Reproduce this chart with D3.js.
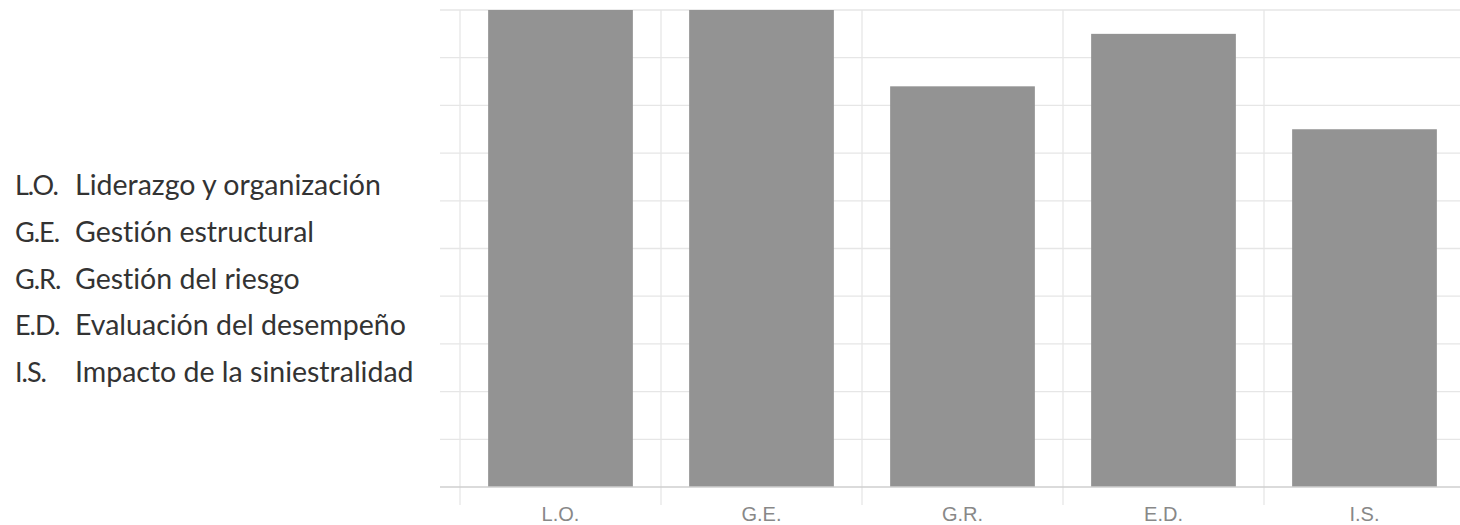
<!DOCTYPE html>
<html>
<head>
<meta charset="utf-8">
<script src="https://cdn.jsdelivr.net/npm/d3@7"></script>
<style>
  html, body { margin: 0; padding: 0; background: #fff; }
  svg { display: block; }
  text { font-variant-ligatures: none; font-feature-settings: "liga" 0; }
</style>
</head>
<body>
<svg id="chart" width="1460" height="525"></svg>
<script>
const categories = ["L.O.", "G.E.", "G.R.", "E.D.", "I.S."];
const values = [100, 100, 84, 95, 75];
const legendCodes = ["L.O.", "G.E.", "G.R.", "E.D.", "I.S."];
const legendNames = ["Liderazgo y organización", "Gestión estructural", "Gestión del riesgo", "Evaluación del desempeño", "Impacto de la siniestralidad"];
const yTicks = [0, 10, 20, 30, 40, 50, 60, 70, 80, 90, 100];

(function () {
const svg = d3.select("#chart");
const plotTop = 10, plotBottom = 487;
const padOuter = 0.14, padInner = 0.28;

const x = d3.scaleBand().domain(categories).range([460, 1465]).paddingInner(padInner).paddingOuter(padOuter);
const y = d3.scaleLinear().domain([0, 100]).range([plotBottom, plotTop]);
const step = x.step();

// horizontal gridlines
svg.append("g").selectAll("line").data(yTicks.filter(d => d > 0)).join("line")
  .attr("x1", 440).attr("x2", 1460)
  .attr("y1", d => y(d)).attr("y2", d => y(d))
  .attr("stroke", "#e6e6e6").attr("stroke-width", 1.3);

// vertical gridlines at band starts
svg.append("g").selectAll("line").data(categories).join("line")
  .attr("x1", d => x(d) - step * padOuter).attr("x2", d => x(d) - step * padOuter)
  .attr("y1", plotTop).attr("y2", 505)
  .attr("stroke", "#e6e6e6").attr("stroke-width", 1.3);

// bars
svg.append("g").selectAll("rect").data(categories).join("rect")
  .attr("x", d => x(d)).attr("width", x.bandwidth())
  .attr("y", (d, i) => y(values[i])).attr("height", (d, i) => y(0) - y(values[i]))
  .attr("fill", "#939393");

// baseline
svg.append("line").attr("x1", 440).attr("x2", 1460).attr("y1", y(0)).attr("y2", y(0))
  .attr("stroke", "#cfcfcf").attr("stroke-width", 1.5);

// x labels
svg.append("g").selectAll("text").data(categories).join("text")
  .attr("x", d => x(d) + x.bandwidth() / 2).attr("y", 521)
  .attr("text-anchor", "middle")
  .attr("font-family", "'Liberation Sans', Arial, sans-serif")
  .attr("font-size", 20).attr("fill", "#888")
  .text(d => d);

// legend text
const lg = svg.append("g").attr("font-family", "Lato, 'Open Sans', sans-serif").attr("fill", "#333");
lg.selectAll("text.code").data(legendCodes).join("text").attr("class", "code")
  .attr("font-size", 27).attr("letter-spacing", -1)
  .attr("x", 15).attr("y", (d, i) => 195 + i * 46.75).text(d => d);
lg.selectAll("text.name").data(legendNames).join("text").attr("class", "name")
  .attr("font-size", 28.5)
  .attr("x", 75).attr("y", (d, i) => 195 + i * 46.75).text(d => d);
})();
</script>
</body>
</html>
